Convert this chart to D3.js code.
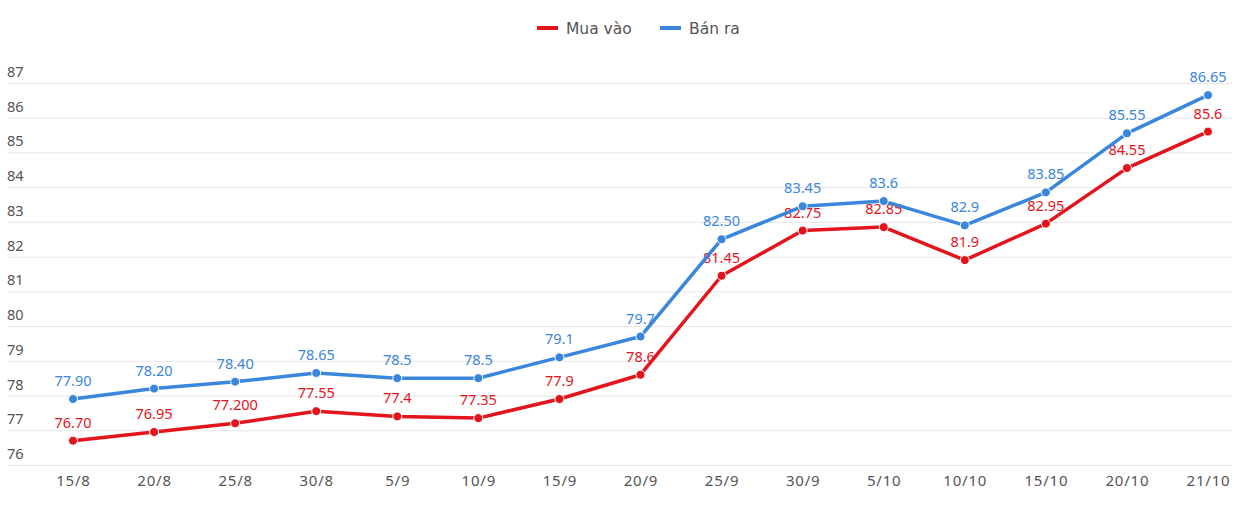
<!DOCTYPE html>
<html><head><meta charset="utf-8">
<script src="https://cdn.jsdelivr.net/npm/d3@7"></script>
<style>body{margin:0;background:#fff}svg{display:block}</style>
</head><body>
<svg id="c" width="1236" height="527"></svg>
<script>
const categories = ["15/8","20/8","25/8","30/8","5/9","10/9","15/9","20/9","25/9","30/9","5/10","10/10","15/10","20/10","21/10"];
const muaVao = [76.70,76.95,77.20,77.55,77.4,77.35,77.9,78.6,81.45,82.75,82.85,81.9,82.95,84.55,85.6];
const muaVaoLabels = ["76.70","76.95","77.200","77.55","77.4","77.35","77.9","78.6","81.45","82.75","82.85","81.9","82.95","84.55","85.6"];
const banRa = [77.90,78.20,78.40,78.65,78.5,78.5,79.1,79.7,82.50,83.45,83.6,82.9,83.85,85.55,86.65];
const banRaLabels = ["77.90","78.20","78.40","78.65","78.5","78.5","79.1","79.7","82.50","83.45","83.6","82.9","83.85","85.55","86.65"];
const yTicks = [76,77,78,79,80,81,82,83,84,85,86,87];
const seriesNames = ["Mua vào","Bán ra"];
const colors = ["#e3141b","#3a86dc"];

const svg = d3.select("#c");
const font = "'Noto Sans', 'Open Sans', sans-serif";
const x = d3.scalePoint().domain(categories).range([73,1208]);
const y = d3.scaleLinear().domain([76,87]).range([465,83]);

// grid
const grid = svg.append("g");
grid.selectAll("line").data(yTicks).join("line")
  .attr("x1",8).attr("x2",1232)
  .attr("y1",d=>y(d)+0.5).attr("y2",d=>y(d)+0.5)
  .attr("stroke","#e6e6e6").attr("stroke-width",1);
grid.selectAll("text").data(yTicks).join("text")
  .attr("x",7).attr("y",d=>y(d)-6)
  .attr("font-family",font).attr("font-size",14.5).attr("fill","#555")
  .text(d=>d);

// x axis
const xAxis = d3.axisBottom(x).tickSize(0).tickPadding(0);
const xg = svg.append("g").attr("transform","translate(0,475)").call(xAxis);
xg.select(".domain").remove();
xg.selectAll("text").attr("font-family",font).attr("font-size",15).attr("letter-spacing","0.8px")
  .attr("fill","#555").attr("dy","0.71em");

const series = [
  {name:seriesNames[0], values:muaVao, labels:muaVaoLabels, color:colors[0]},
  {name:seriesNames[1], values:banRa, labels:banRaLabels, color:colors[1]}
];
const line = d3.line().x((d,i)=>x(categories[i])).y(d=>y(d));
series.forEach(s=>{
  const g = svg.append("g");
  g.append("path").attr("d",line(s.values)).attr("fill","none")
    .attr("stroke",s.color).attr("stroke-width",3.5).attr("stroke-linejoin","round");
  g.selectAll("circle").data(s.values).join("circle")
    .attr("cx",(d,i)=>x(categories[i])).attr("cy",d=>y(d)).attr("r",4.5)
    .attr("fill",s.color).attr("stroke","#fff").attr("stroke-width",1);
  g.selectAll("text").data(s.values).join("text")
    .attr("x",(d,i)=>x(categories[i])).attr("y",d=>y(d)-13)
    .attr("text-anchor","middle").attr("font-family",font).attr("font-size",14.5)
    .attr("fill",s.color).text((d,i)=>s.labels[i]);
});

// legend
const leg = svg.append("g");
const legItems = [{x:537,tx:566},{x:660,tx:689}];
series.forEach((s,i)=>{
  leg.append("line").attr("x1",legItems[i].x).attr("x2",legItems[i].x+21)
    .attr("y1",28).attr("y2",28).attr("stroke",s.color).attr("stroke-width",4);
  leg.append("text").attr("x",legItems[i].tx).attr("y",33.5)
    .attr("font-family","'DejaVu Sans', 'Noto Sans', sans-serif").attr("font-size",15.5)
    .attr("fill","#555").text(s.name);
});
</script>
</body></html>
